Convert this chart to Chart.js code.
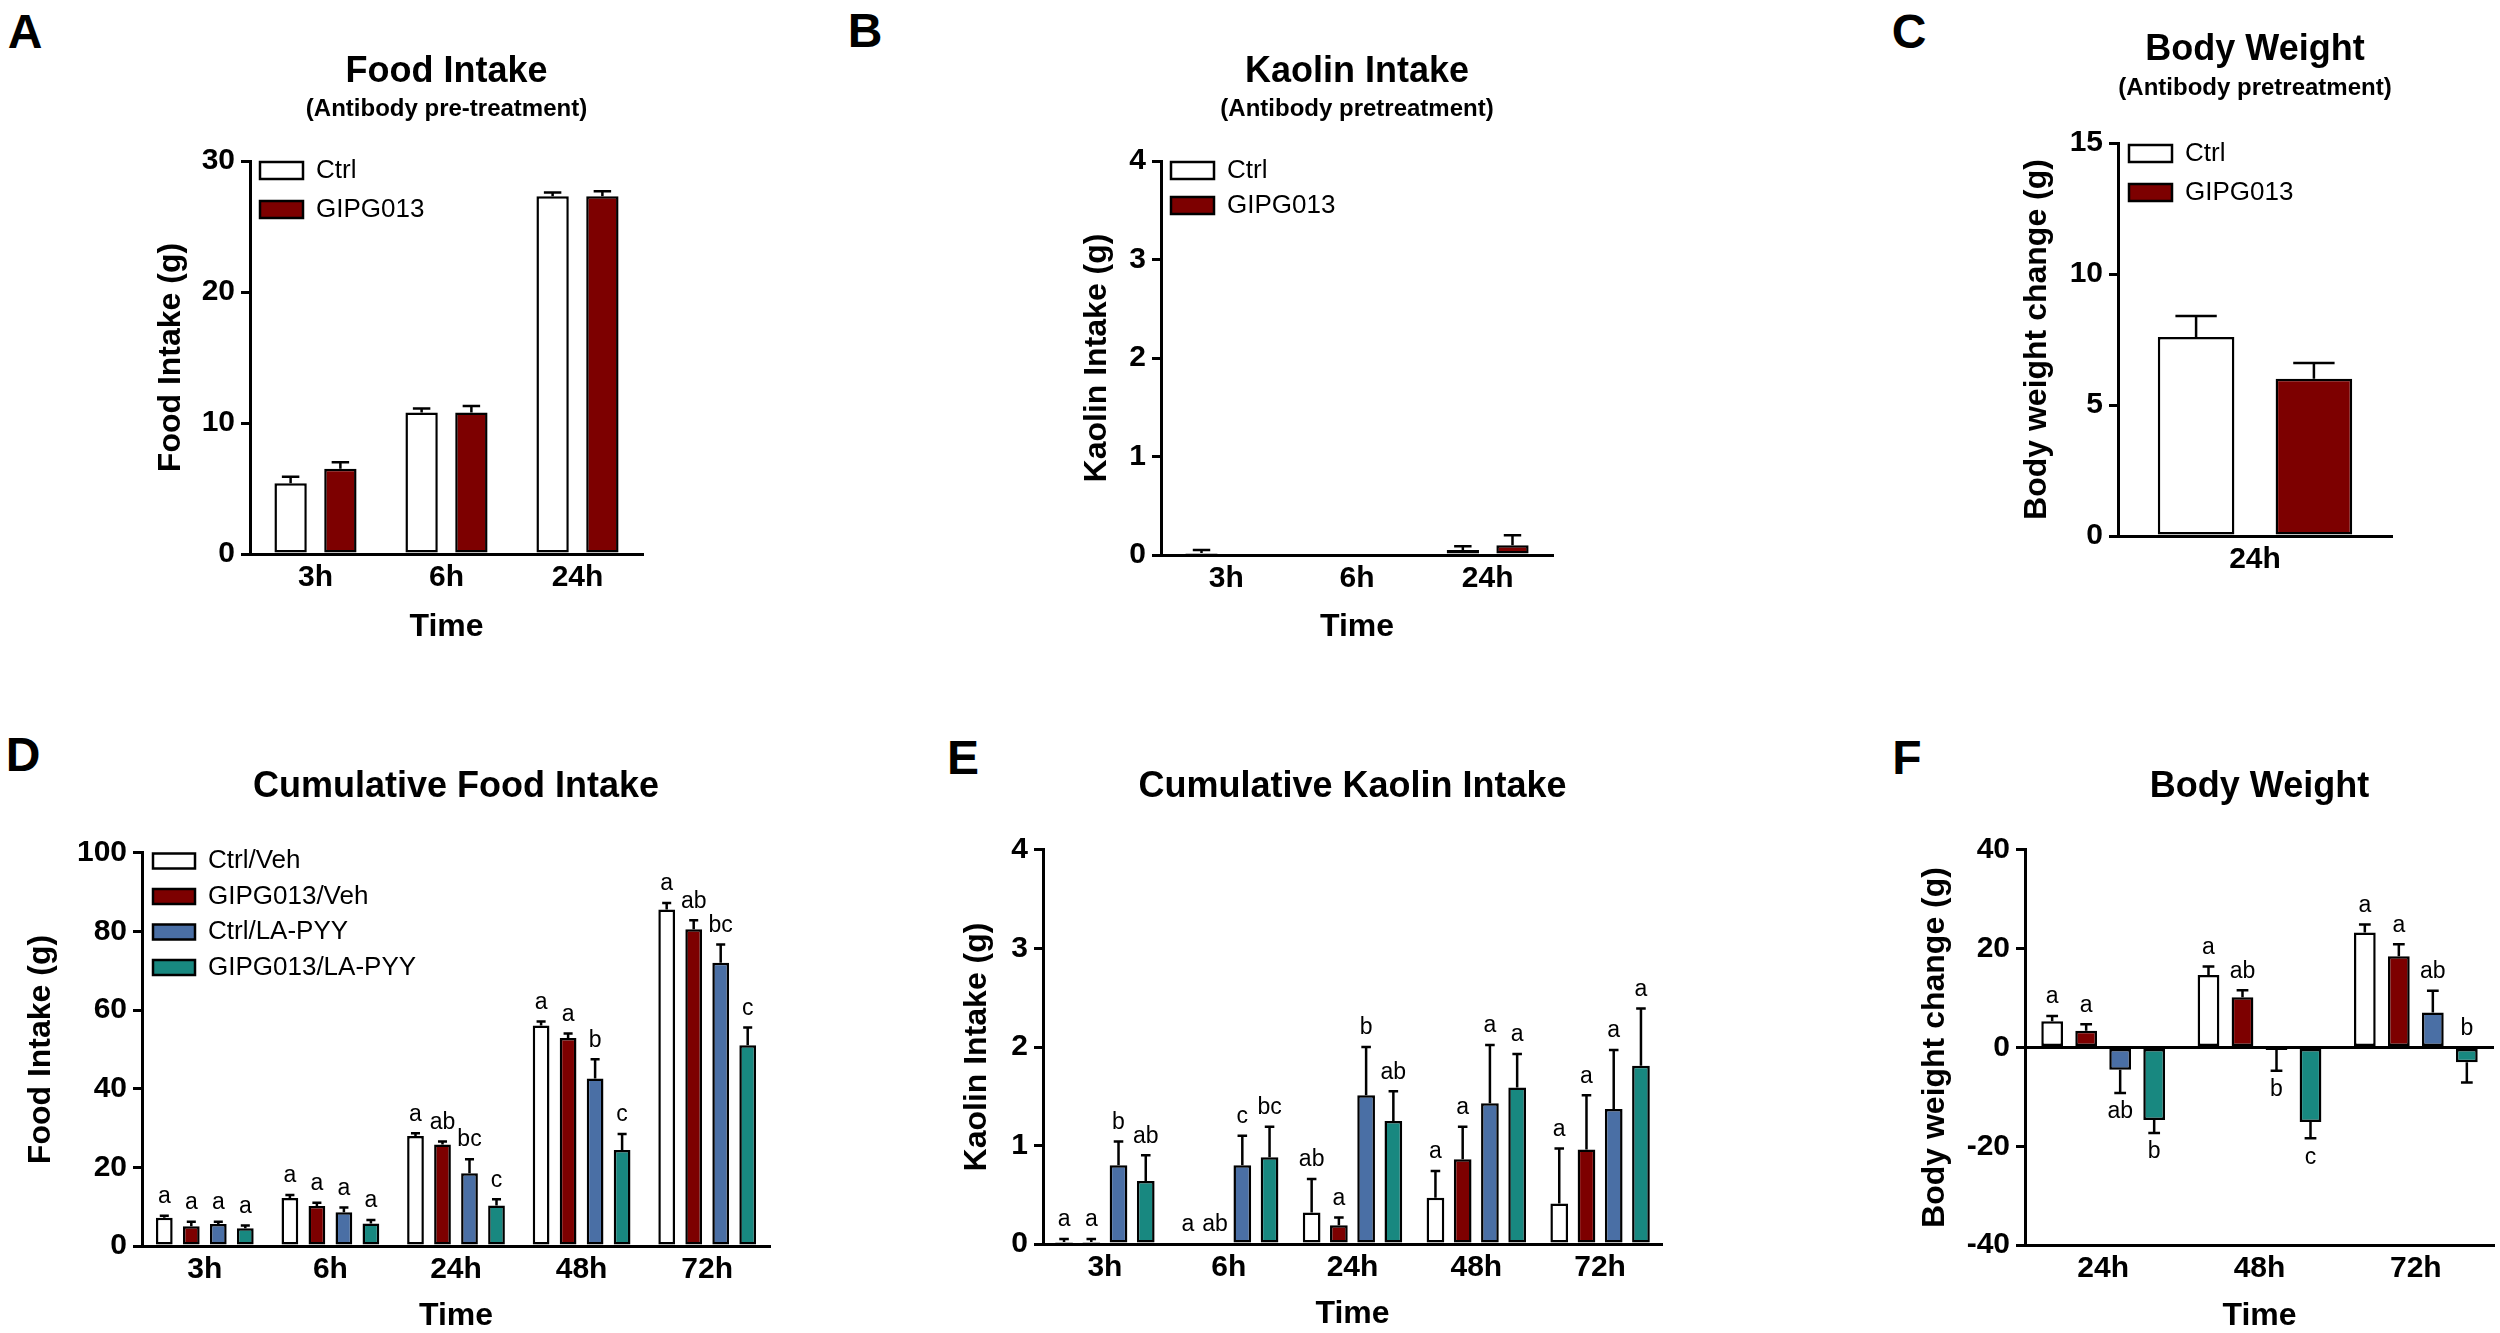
<!DOCTYPE html>
<html>
<head>
<meta charset="utf-8">
<script src="https://cdn.jsdelivr.net/npm/chart.js@4.4.1/dist/chart.umd.min.js"></script>
<style>
  body { margin: 0; background: #fff; width: 2500px; height: 1333px; position: relative; overflow: hidden;
         font-family: "Liberation Sans", Arial, sans-serif; }
  canvas { position: absolute; }
  .tag { position: absolute; font-weight: bold; font-size: 48px; line-height: 1; transform: translate(-50%, -50%); }
</style>
</head>
<body>
<div class="tag" style="left:25px;top:32px">A</div>
<div class="tag" style="left:865px;top:31px">B</div>
<div class="tag" style="left:1909px;top:32px">C</div>
<div class="tag" style="left:23px;top:755px">D</div>
<div class="tag" style="left:963px;top:758px">E</div>
<div class="tag" style="left:1907px;top:758px">F</div>

<canvas id="chartA"></canvas>
<canvas id="chartB"></canvas>
<canvas id="chartC"></canvas>
<canvas id="chartD"></canvas>
<canvas id="chartE"></canvas>
<canvas id="chartF"></canvas>

<script>
// ---- data ----
const shortTimes = ['3h', '6h', '24h'];
const longTimes = ['3h', '6h', '24h', '48h', '72h'];
const bwTimes = ['24h', '48h', '72h'];

// A: food intake, antibody pre-treatment
const foodCtrl = [5.4, 10.8, 27.3];
const foodCtrlSem = [0.5, 0.3, 0.3];
const foodGip = [6.5, 10.8, 27.3];
const foodGipSem = [0.5, 0.5, 0.4];

// B: kaolin intake, antibody pretreatment
const kaolinCtrl = [0.02, 0, 0.05];
const kaolinCtrlSem = [0.03, 0, 0.04];
const kaolinGip = [0, 0, 0.1];
const kaolinGipSem = [0, 0, 0.1];

// C: body weight change at 24h
const bwCtrl = [7.6];
const bwCtrlSem = [0.8];
const bwGip = [6.0];
const bwGipSem = [0.6];

// D: cumulative food intake
const cumFoodCtrlVeh = [7.2, 12.2, 28.0, 56.1, 85.6];
const cumFoodCtrlVehSem = [0.5, 0.8, 0.7, 1.0, 1.7];
const cumFoodGipVeh = [5.0, 10.2, 25.8, 52.9, 80.6];
const cumFoodGipVehSem = [1.2, 0.8, 0.8, 1.2, 2.3];
const cumFoodCtrlPyy = [5.6, 8.6, 18.5, 42.6, 72.1];
const cumFoodCtrlPyySem = [0.6, 1.2, 3.6, 4.9, 4.6];
const cumFoodGipPyy = [4.5, 5.7, 10.3, 24.4, 51.1];
const cumFoodGipPyySem = [0.7, 0.9, 1.6, 4.1, 4.5];
const cumFoodLetters = [
  ['a', 'a', 'a', 'a', 'a'],
  ['a', 'a', 'ab', 'a', 'ab'],
  ['a', 'a', 'bc', 'b', 'bc'],
  ['a', 'a', 'c', 'c', 'c']
];

// E: cumulative kaolin intake
const cumKaoCtrlVeh = [0.02, 0, 0.32, 0.47, 0.41];
const cumKaoCtrlVehSem = [0.03, 0, 0.34, 0.27, 0.56];
const cumKaoGipVeh = [0.02, 0, 0.19, 0.86, 0.96];
const cumKaoGipVehSem = [0.03, 0, 0.08, 0.33, 0.55];
const cumKaoCtrlPyy = [0.80, 0.80, 1.51, 1.43, 1.37];
const cumKaoCtrlPyySem = [0.24, 0.30, 0.49, 0.59, 0.60];
const cumKaoGipPyy = [0.64, 0.88, 1.25, 1.59, 1.81];
const cumKaoGipPyySem = [0.26, 0.31, 0.30, 0.34, 0.58];
const cumKaoLetters = [
  ['a', 'a', 'ab', 'a', 'a'],
  ['a', 'ab', 'a', 'a', 'a'],
  ['b', 'c', 'b', 'a', 'a'],
  ['ab', 'bc', 'ab', 'a', 'a']
];

// F: body weight change
const bwCtrlVeh = [5.3, 14.7, 23.3];
const bwCtrlVehSem = [1.1, 1.7, 1.6];
const bwGipVeh = [3.4, 10.2, 18.5];
const bwGipVehSem = [1.3, 1.4, 2.4];
const bwCtrlPyy = [-4.5, -0.5, 7.1];
const bwCtrlPyySem = [4.7, 4.2, 4.4];
const bwGipPyy = [-14.7, -15.1, -3.0];
const bwGipPyySem = [2.6, 3.3, 4.1];
const bwLetters = [
  ['a', 'a', 'a'],
  ['a', 'ab', 'a'],
  ['ab', 'b', 'ab'],
  ['b', 'c', 'b']
];
// which side of the bar the letter sits on (1 = above, -1 = below)
const bwLetterSide = [
  [1, 1, 1],
  [1, 1, 1],
  [-1, -1, 1],
  [-1, -1, 1]
];

// ---- styling ----
const WHITE = '#ffffff', RED = '#7d0000', BLUE = '#4a6fa5', TEAL = '#188880';
const FONT = '"Liberation Sans", Arial, sans-serif';

Chart.defaults.font.family = FONT;
Chart.defaults.color = '#000';

// one-sided SEM whiskers and letter groups above/below bars
const errorBars = {
  id: 'errorBars',
  afterDatasetsDraw(chart) {
    const ctx = chart.ctx;
    const y = chart.scales.y;
    const y0 = y.getPixelForValue(0);
    chart.data.datasets.forEach((ds, i) => {
      const meta = chart.getDatasetMeta(i);
      meta.data.forEach((bar, j) => {
        const v = ds.data[j];
        const e = ds.sem ? ds.sem[j] : 0;
        const dir = v < 0 ? -1 : 1;
        const yEnd = y.getPixelForValue(v + dir * e);
        const cap = bar.width * 0.27;
        ctx.save();
        ctx.strokeStyle = '#000';
        ctx.lineWidth = 2.5;
        if (e > 0) {
          ctx.beginPath();
          ctx.moveTo(bar.x, bar.y);
          ctx.lineTo(bar.x, yEnd);
          ctx.moveTo(bar.x - cap, yEnd);
          ctx.lineTo(bar.x + cap, yEnd);
          ctx.stroke();
        }
        if (ds.letters) {
          const side = ds.letterSide ? ds.letterSide[j] : dir;
          const edge = side > 0 ? Math.min(yEnd, bar.y, y0) : Math.max(yEnd, bar.y, y0);
          ctx.fillStyle = '#000';
          ctx.font = '23px ' + FONT;
          ctx.textAlign = 'center';
          ctx.textBaseline = 'middle';
          ctx.fillText(ds.letters[j], bar.x, edge - side * 19);
        }
        ctx.restore();
      });
    });
  }
};

// put the legend at the top-left corner inside the plot
const legendPlace = {
  id: 'legendPlace',
  afterLayout(chart, args, opts) {
    const lg = chart.legend;
    if (!lg || !lg.options.display) return;
    const ca = chart.chartArea;
    const lab = lg.options.labels;
    const item = Math.max(lab.font.size, lab.boxHeight);
    lg.left = ca.left + opts.x - lab.padding;
    lg.top = ca.top + opts.y - lab.padding - item / 2;
    lg.right = ca.right;
    lg.bottom = ca.bottom;
  }
};

function bars(label, data, sem, color, letters, letterSide) {
  return {
    label: label, data: data, sem: sem, letters: letters, letterSide: letterSide,
    backgroundColor: color, borderColor: '#000', borderWidth: 2.5, borderSkipped: false
  };
}

function makeChart(id, p) {
  const b = p.box, a = p.area;
  const canvas = document.getElementById(id);
  canvas.width = b.w;
  canvas.height = b.h;
  canvas.style.left = b.x + 'px';
  canvas.style.top = b.y + 'px';

  // work out paddings so the plot lands where it is in the figure
  const titlePadTop = p.titleY - b.y - 21.6;
  const headBottom = b.y + titlePadTop + 43.2;
  let titlePadBottom = 0, subPadTop = 0, subPadBottom = 0;
  if (p.subtitle) {
    subPadTop = p.subY - headBottom - 14.4;
    subPadBottom = a.t - (headBottom + subPadTop + 28.8);
  } else {
    titlePadBottom = a.t - headBottom;
  }
  const yLeft = p.yTitleX - 19.2;
  const yWidth = a.l - yLeft;
  const xBottom = p.timeY ? p.timeY + 19.2 : a.b + 40;
  const xHeight = xBottom - a.b;

  return new Chart(canvas, {
    type: 'bar',
    data: { labels: p.labels, datasets: p.datasets },
    options: {
      responsive: false,
      animation: false,
      devicePixelRatio: 1,
      layout: { padding: { left: yLeft - b.x, right: b.x + b.w - a.r, top: 0, bottom: b.y + b.h - xBottom } },
      datasets: { bar: { categoryPercentage: p.cp, barPercentage: p.bp } },
      plugins: {
        title: {
          display: true, text: p.title, fullSize: false, color: '#000',
          font: { size: 36, weight: 'bold' },
          padding: { top: titlePadTop, bottom: titlePadBottom }
        },
        subtitle: {
          display: !!p.subtitle, text: p.subtitle || '', fullSize: false, color: '#000',
          font: { size: 24, weight: 'bold' },
          padding: { top: subPadTop, bottom: subPadBottom }
        },
        legend: {
          display: !!p.legend, position: 'chartArea', align: 'start',
          labels: {
            color: '#000', font: { size: 26 },
            boxWidth: p.legend ? p.legend.bw : 40, boxHeight: p.legend ? p.legend.bh : 16,
            padding: p.legend ? p.legend.pad : 10
          }
        },
        legendPlace: p.legend ? { x: p.legend.x, y: p.legend.y } : {},
        tooltip: { enabled: false }
      },
      scales: {
        x: {
          grid: { display: false, drawTicks: false },
          border: { display: true, color: '#000', width: 3 },
          ticks: { font: { size: 30, weight: 'bold' }, color: '#000', padding: 6 },
          title: {
            display: !!p.timeY, text: 'Time', color: '#000',
            font: { size: 32, weight: 'bold' }, padding: 0
          },
          afterFit(scale) { scale.height = xHeight; }
        },
        y: {
          min: p.yMin, max: p.yMax,
          grid: {
            drawOnChartArea: !!p.zeroLine,
            color: p.zeroLine ? (c) => (c.tick && c.tick.value === 0 ? '#000' : 'rgba(0,0,0,0)') : '#000',
            tickColor: '#000', lineWidth: 3, tickLength: 9
          },
          border: { display: true, color: '#000', width: 3 },
          ticks: { stepSize: p.yStep, font: { size: 30, weight: 'bold' }, color: '#000', padding: 6 },
          title: {
            display: true, text: p.yTitle, color: '#000',
            font: { size: 32, weight: 'bold' }, padding: 0
          },
          afterFit(scale) { scale.width = yWidth; }
        }
      }
    },
    plugins: [errorBars, legendPlace]
  });
}

makeChart('chartA', {
  box: { x: 0, y: 0, w: 833, h: 666 }, area: { l: 250, t: 161, r: 643, b: 554 },
  titleY: 72, subY: 109, yTitleX: 171, timeY: 627,
  title: 'Food Intake', subtitle: '(Antibody pre-treatment)', yTitle: 'Food Intake (g)',
  yMin: 0, yMax: 30, yStep: 10, cp: 0.76, bp: 0.65,
  legend: { x: 10, y: 9.5, bw: 43, bh: 17, pad: 13 },
  labels: shortTimes,
  datasets: [bars('Ctrl', foodCtrl, foodCtrlSem, WHITE), bars('GIPG013', foodGip, foodGipSem, RED)]
});

makeChart('chartB', {
  box: { x: 833, y: 0, w: 833, h: 666 }, area: { l: 1161, t: 161, r: 1553, b: 555 },
  titleY: 72, subY: 109, yTitleX: 1097, timeY: 627,
  title: 'Kaolin Intake', subtitle: '(Antibody pretreatment)', yTitle: 'Kaolin Intake (g)',
  yMin: 0, yMax: 4, yStep: 1, cp: 0.76, bp: 0.65,
  legend: { x: 10, y: 9.5, bw: 43, bh: 17, pad: 9 },
  labels: shortTimes,
  datasets: [bars('Ctrl', kaolinCtrl, kaolinCtrlSem, WHITE), bars('GIPG013', kaolinGip, kaolinGipSem, RED)]
});

makeChart('chartC', {
  box: { x: 1666, y: 0, w: 834, h: 666 }, area: { l: 2118, t: 143, r: 2392, b: 536 },
  titleY: 50, subY: 88, yTitleX: 2037, timeY: 0,
  title: 'Body Weight', subtitle: '(Antibody pretreatment)', yTitle: 'Body weight change (g)',
  yMin: 0, yMax: 15, yStep: 5, cp: 0.86, bp: 0.65,
  legend: { x: 11, y: 10.5, bw: 43, bh: 17, pad: 13 },
  labels: ['24h'],
  datasets: [bars('Ctrl', bwCtrl, bwCtrlSem, WHITE), bars('GIPG013', bwGip, bwGipSem, RED)]
});

makeChart('chartD', {
  box: { x: 0, y: 666, w: 833, h: 667 }, area: { l: 142, t: 853, r: 770, b: 1246 },
  titleY: 787, yTitleX: 41, timeY: 1316,
  title: 'Cumulative Food Intake', yTitle: 'Food Intake (g)',
  yMin: 0, yMax: 100, yStep: 20, cp: 0.86, bp: 0.62,
  legend: { x: 11, y: 8, bw: 42, bh: 15, pad: 9.5 },
  labels: longTimes,
  datasets: [
    bars('Ctrl/Veh', cumFoodCtrlVeh, cumFoodCtrlVehSem, WHITE, cumFoodLetters[0]),
    bars('GIPG013/Veh', cumFoodGipVeh, cumFoodGipVehSem, RED, cumFoodLetters[1]),
    bars('Ctrl/LA-PYY', cumFoodCtrlPyy, cumFoodCtrlPyySem, BLUE, cumFoodLetters[2]),
    bars('GIPG013/LA-PYY', cumFoodGipPyy, cumFoodGipPyySem, TEAL, cumFoodLetters[3])
  ]
});

makeChart('chartE', {
  box: { x: 833, y: 666, w: 833, h: 667 }, area: { l: 1043, t: 850, r: 1662, b: 1244 },
  titleY: 787, yTitleX: 977, timeY: 1314,
  title: 'Cumulative Kaolin Intake', yTitle: 'Kaolin Intake (g)',
  yMin: 0, yMax: 4, yStep: 1, cp: 0.88, bp: 0.65,
  labels: longTimes,
  datasets: [
    bars('Ctrl/Veh', cumKaoCtrlVeh, cumKaoCtrlVehSem, WHITE, cumKaoLetters[0]),
    bars('GIPG013/Veh', cumKaoGipVeh, cumKaoGipVehSem, RED, cumKaoLetters[1]),
    bars('Ctrl/LA-PYY', cumKaoCtrlPyy, cumKaoCtrlPyySem, BLUE, cumKaoLetters[2]),
    bars('GIPG013/LA-PYY', cumKaoGipPyy, cumKaoGipPyySem, TEAL, cumKaoLetters[3])
  ]
});

makeChart('chartF', {
  box: { x: 1666, y: 666, w: 834, h: 667 }, area: { l: 2025, t: 850, r: 2494, b: 1245 },
  titleY: 787, yTitleX: 1935, timeY: 1316,
  title: 'Body Weight', yTitle: 'Body weight change (g)',
  yMin: -40, yMax: 40, yStep: 20, cp: 0.87, bp: 0.64, zeroLine: true,
  labels: bwTimes,
  datasets: [
    bars('Ctrl/Veh', bwCtrlVeh, bwCtrlVehSem, WHITE, bwLetters[0], bwLetterSide[0]),
    bars('GIPG013/Veh', bwGipVeh, bwGipVehSem, RED, bwLetters[1], bwLetterSide[1]),
    bars('Ctrl/LA-PYY', bwCtrlPyy, bwCtrlPyySem, BLUE, bwLetters[2], bwLetterSide[2]),
    bars('GIPG013/LA-PYY', bwGipPyy, bwGipPyySem, TEAL, bwLetters[3], bwLetterSide[3])
  ]
});
</script>
</body>
</html>
